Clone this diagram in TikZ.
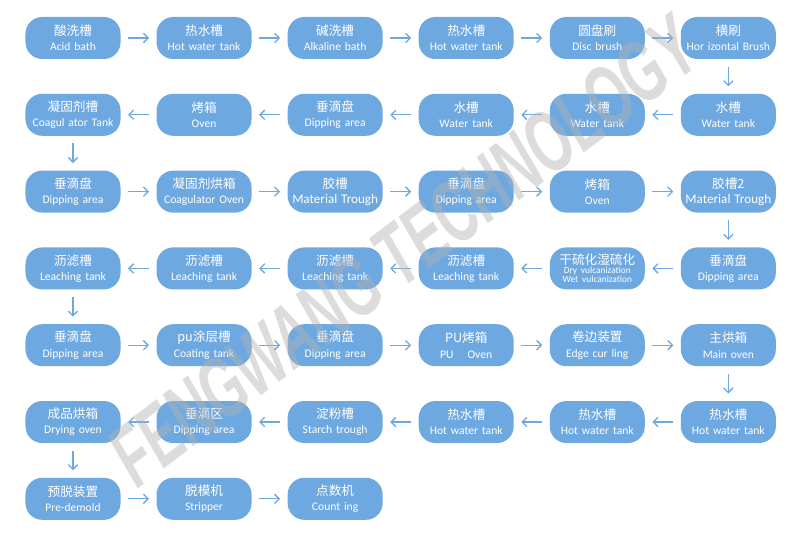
\documentclass[tikz,border=0pt]{standalone}
\usepackage{fontspec}
\setmainfont{Carlito}
\newfontfamily\cjk[Scale=1.09]{Noto Sans CJK SC}
\newfontfamily\wmfont{Liberation Sans}
\usetikzlibrary{positioning}
\usetikzlibrary{arrows.meta}
\definecolor{flowblue}{RGB}{110,168,225}
\tikzset{node distance=1.03cm and 1.068cm,
    proc/.style={
        rectangle,
        rounded corners=0.5cm,
        fill=flowblue,
        text=white,
        inner xsep=0pt,
        inner ysep=0pt,
        minimum width=2.85cm,
        minimum height=1.26cm,
        text width=2.85cm,
        align=center,
        font=\fontsize{9.9}{13}\selectfont},
    wmark/.style={
        rotate=37,
        xscale=0.62,
        transform shape,
        text=gray!60,
        text opacity=0.45,
        font=\wmfont\bfseries\itshape\fontsize{74}{74}\selectfont},
    every edge/.style={
        draw,
        -{Straight Barb[length=4pt,width=8pt]},
        line width=1.1pt,
        flowblue,
        shorten >=0.22cm,
        shorten <=0.22cm}}

\begin{document}
\begin{tikzpicture}
        \path[use as bounding box,fill=white] (-2.19,1.14) rectangle (21.81,-14.94);

        % row 1
        \node[proc] (a1) {{\cjk 酸洗槽}\\Acid bath};
        \node[proc,right=of a1] (a2) {{\cjk 热水槽}\\Hot water tank};
        \node[proc,right=of a2] (a3) {{\cjk 碱洗槽}\\Alkaline bath};
        \node[proc,right=of a3] (a4) {{\cjk 热水槽}\\Hot water tank};
        \node[proc,right=of a4] (a5) {{\cjk 圆盘刷}\\Disc brush};
        \node[proc,right=of a5] (a6) {{\cjk 横刷}\\Hor izontal Brush};
        % row 2
        \node[proc,below=of a6] (b6) {{\cjk 水槽}\\Water tank};
        \node[proc,left=of b6] (b5) {{\cjk 水槽}\\Water tank};
        \node[proc,left=of b5] (b4) {{\cjk 水槽}\\Water tank};
        \node[proc,left=of b4] (b3) {{\cjk 垂滴盘}\\Dipping area};
        \node[proc,left=of b3] (b2) {{\cjk 烤箱}\\Oven};
        \node[proc,left=of b2] (b1) {{\cjk 凝固剂槽}\\Coagul ator Tank};
        % row 3
        \node[proc,below=of b1] (c1) {{\cjk 垂滴盘}\\Dipping area};
        \node[proc,right=of c1] (c2) {{\cjk 凝固剂烘箱}\\Coagulator Oven};
        \node[proc,right=of c2] (c3) {{\cjk 胶槽}\\\fontsize{11.2}{12.5}\selectfont Material Trough};
        \node[proc,right=of c3] (c4) {{\cjk 垂滴盘}\\Dipping area};
        \node[proc,right=of c4] (c5) {{\cjk 烤箱}\\Oven};
        \node[proc,right=of c5] (c6) {{\cjk 胶槽2}\\\fontsize{11.2}{12.5}\selectfont Material Trough};
        % row 4
        \node[proc,below=of c6] (d6) {{\cjk 垂滴盘}\\Dipping area};
        \node[proc,left=of d6] (d5) {{\cjk 干硫化湿硫化}\\[-1pt]\fontsize{8}{8}\selectfont Dry vulcanization\\[-5pt]Wet vulcanization};
        \node[proc,left=of d5] (d4) {{\cjk 沥滤槽}\\Leaching tank};
        \node[proc,left=of d4] (d3) {{\cjk 沥滤槽}\\Leaching tank};
        \node[proc,left=of d3] (d2) {{\cjk 沥滤槽}\\Leaching tank};
        \node[proc,left=of d2] (d1) {{\cjk 沥滤槽}\\Leaching tank};
        % row 5
        \node[proc,below=of d1] (e1) {{\cjk 垂滴盘}\\Dipping area};
        \node[proc,right=of e1] (e2) {{\cjk pu涂层槽}\\Coating tank};
        \node[proc,right=of e2] (e3) {{\cjk 垂滴盘}\\Dipping area};
        \node[proc,right=of e3] (e4) {{\cjk PU烤箱}\\PU\hspace{1.2em}Oven};
        \node[proc,right=of e4] (e5) {{\cjk 卷边装置}\\Edge cur ling};
        \node[proc,right=of e5] (e6) {{\cjk 主烘箱}\\Main oven};
        % row 6
        \node[proc,below=of e6] (f6) {{\cjk 热水槽}\\Hot water tank};
        \node[proc,left=of f6] (f5) {{\cjk 热水槽}\\Hot water tank};
        \node[proc,left=of f5] (f4) {{\cjk 热水槽}\\Hot water tank};
        \node[proc,left=of f4] (f3) {{\cjk 淀粉槽}\\Starch trough};
        \node[proc,left=of f3] (f2) {{\cjk 垂滴区}\\Dipping area};
        \node[proc,left=of f2] (f1) {{\cjk 成品烘箱}\\Drying oven};
        % row 7
        \node[proc,below=of f1] (g1) {{\cjk 预脱装置}\\Pre-demold};
        \node[proc,right=of g1] (g2) {{\cjk 脱模机}\\Stripper};
        \node[proc,right=of g2] (g3) {{\cjk 点数机}\\Count ing};

        \draw (a1) edge (a2) (a2) edge (a3) (a3) edge (a4) (a4) edge (a5) (a5) edge (a6);
        \draw (a6) edge (b6);
        \draw (b6) edge (b5) (b5) edge (b4) (b4) edge (b3) (b3) edge (b2) (b2) edge (b1);
        \draw (b1) edge (c1);
        \draw (c1) edge (c2) (c2) edge (c3) (c3) edge (c4) (c4) edge (c5) (c5) edge (c6);
        \draw (c6) edge (d6);
        \draw (d6) edge (d5) (d5) edge (d4) (d4) edge (d3) (d3) edge (d2) (d2) edge (d1);
        \draw (d1) edge (e1);
        \draw (e1) edge (e2) (e2) edge (e3) (e3) edge (e4) (e4) edge (e5) (e5) edge (e6);
        \draw (e6) edge (f6);
        \draw (f6) edge (f5) (f5) edge (f4) (f4) edge (f3) (f3) edge (f2) (f2) edge (f1);
        \draw (f1) edge (g1);
        \draw (g1) edge (g2) (g2) edge (g3);

        % watermark
        \node[wmark] (wm) at (9.9,-6.4) {FENGWANG TECHNOLOGY};
    \end{tikzpicture}
\end{document}
